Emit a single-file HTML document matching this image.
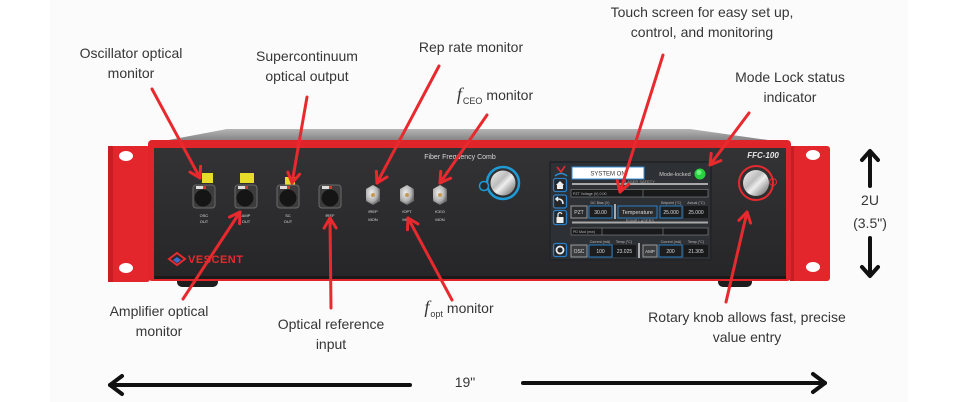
<!DOCTYPE html>
<html><head><meta charset="utf-8">
<style>
html,body{margin:0;padding:0;background:#fff;}
svg{display:block;}
.lbl{font-family:"Liberation Sans",sans-serif;font-size:14px;fill:#363636;text-anchor:middle;}
.t{font-family:"Liberation Sans",sans-serif;text-anchor:middle;}
.rl{stroke:#e8292e;stroke-width:3;stroke-linecap:round;fill:none;}
.bk{stroke:#111;stroke-width:4;stroke-linecap:round;stroke-linejoin:round;fill:none;}
</style></head><body>
<svg width="960" height="402" viewBox="0 0 960 402" xmlns="http://www.w3.org/2000/svg">
<defs>
 <marker id="ra" viewBox="0 0 16 16" refX="13" refY="8" markerWidth="16" markerHeight="16" markerUnits="userSpaceOnUse" orient="auto">
  <path d="M3,2 L13,8 L3,14" fill="none" stroke="#e8292e" stroke-width="3" stroke-linecap="round" stroke-linejoin="round"/>
 </marker>
 <linearGradient id="topg" x1="0" y1="0" x2="0" y2="1">
  <stop offset="0" stop-color="#b5b5b5"/><stop offset="1" stop-color="#7d7d7d"/>
 </linearGradient>
 <linearGradient id="panel" x1="0" y1="0" x2="0" y2="1">
  <stop offset="0" stop-color="#333335"/><stop offset="1" stop-color="#262628"/>
 </linearGradient>
 <linearGradient id="metal" x1="0" y1="0" x2="1" y2="1">
  <stop offset="0" stop-color="#f4f4f4"/><stop offset="0.4" stop-color="#bdbdbd"/><stop offset="0.55" stop-color="#eeeeee"/><stop offset="1" stop-color="#5a5a5a"/>
 </linearGradient>
 <radialGradient id="sma" cx="0.4" cy="0.4" r="0.6">
  <stop offset="0" stop-color="#f0f0f0"/><stop offset="0.7" stop-color="#b0b0b0"/><stop offset="1" stop-color="#6a6a6a"/>
 </radialGradient>
</defs>
<rect width="960" height="402" fill="#fff"/>
<rect x="50" y="0" width="858" height="402" fill="#fbfbfb"/>

<!-- top surface -->
<polygon points="158,142 227,129 690,129 782,142" fill="url(#topg)"/>
<!-- feet -->
<rect x="177" y="276" width="41" height="11" rx="5" fill="#1e1e1e"/>
<rect x="718" y="276" width="34" height="11" rx="5" fill="#1e1e1e"/>
<!-- ears -->
<rect x="108" y="146" width="42" height="136" rx="3" fill="#e3262b"/>
<rect x="108" y="146" width="5" height="136" fill="#c81e23"/>
<ellipse cx="126" cy="156" rx="7" ry="5" fill="#fff"/>
<ellipse cx="126" cy="268" rx="7" ry="5" fill="#fff"/>
<rect x="790" y="146" width="40" height="135" rx="3" fill="#e3262b"/>
<rect x="790" y="146" width="4" height="135" fill="#c81e23"/>
<ellipse cx="813" cy="155" rx="7" ry="5" fill="#fff"/>
<ellipse cx="813" cy="267" rx="7" ry="5" fill="#fff"/>
<!-- body -->
<rect x="148" y="140" width="643" height="141" rx="4" fill="#e0252a"/>
<rect x="154" y="148" width="632" height="131" fill="url(#panel)"/>
<rect x="154" y="276" width="632" height="3" fill="#1a1a1a"/>

<text x="460" y="159" class="t" font-size="7" fill="#d8d8d8">Fiber Frequency Comb</text>
<text x="763" y="158" class="t" font-size="8" font-weight="bold" font-style="italic" fill="#e8e8e8">FFC-100</text>

<!-- FC connectors -->
<g>
 <rect x="202" y="173" width="11" height="10" fill="#e8dc2a"/>
 <rect x="193" y="185" width="22" height="23" rx="3" fill="#3c3c3c" stroke="#6a6a6a" stroke-width="1"/>
 <rect x="196" y="186" width="10" height="3" fill="#ddd"/><rect x="203" y="186" width="3" height="3" fill="#d33"/>
 <circle cx="203" cy="198" r="8.5" fill="#151515"/>
 <text x="204" y="217" class="t" font-size="4" fill="#ddd">OSC</text><text x="204" y="223" class="t" font-size="4" fill="#ddd">OUT</text>

 <rect x="240" y="173" width="14" height="10" fill="#e8dc2a"/>
 <rect x="235" y="185" width="22" height="23" rx="3" fill="#3c3c3c" stroke="#6a6a6a" stroke-width="1"/>
 <rect x="238" y="186" width="10" height="3" fill="#ddd"/><rect x="245" y="186" width="3" height="3" fill="#d33"/>
 <circle cx="245" cy="198" r="8.5" fill="#151515"/>
 <text x="246" y="217" class="t" font-size="4" fill="#ddd">AMP</text><text x="246" y="223" class="t" font-size="4" fill="#ddd">OUT</text>

 <rect x="285" y="177" width="10" height="8" fill="#e8dc2a"/>
 <rect x="277" y="185" width="22" height="23" rx="3" fill="#3c3c3c" stroke="#6a6a6a" stroke-width="1"/>
 <rect x="280" y="186" width="10" height="3" fill="#ddd"/><rect x="287" y="186" width="3" height="3" fill="#d33"/>
 <circle cx="288" cy="198" r="8.5" fill="#151515"/>
 <text x="288" y="217" class="t" font-size="4" fill="#ddd">SC</text><text x="288" y="223" class="t" font-size="4" fill="#ddd">OUT</text>

 <rect x="319" y="185" width="22" height="23" rx="3" fill="#3c3c3c" stroke="#6a6a6a" stroke-width="1"/>
 <rect x="322" y="186" width="10" height="3" fill="#ddd"/><rect x="329" y="186" width="3" height="3" fill="#d33"/>
 <circle cx="330" cy="198" r="8.5" fill="#151515"/>
 <text x="330" y="217" class="t" font-size="4" fill="#ddd">fREF</text>
</g>
<!-- SMA -->
<g>
 <polygon points="366,189 373,185 380,189 380,201 373,205 366,201" fill="url(#sma)"/>
 <circle cx="373" cy="195" r="2" fill="#c89a50"/>
 <text x="373" y="213" class="t" font-size="4" fill="#ddd">fREP</text><text x="373" y="221" class="t" font-size="4" fill="#ddd">MON</text>
 <polygon points="400,189 407,185 414,189 414,201 407,205 400,201" fill="url(#sma)"/>
 <circle cx="407" cy="195" r="2" fill="#c89a50"/>
 <text x="407" y="213" class="t" font-size="4" fill="#ddd">fOPT</text><text x="407" y="221" class="t" font-size="4" fill="#ddd">MON</text>
 <polygon points="433,189 440,185 447,189 447,201 440,205 433,201" fill="url(#sma)"/>
 <circle cx="440" cy="195" r="2" fill="#c89a50"/>
 <text x="440" y="213" class="t" font-size="4" fill="#ddd">fCEO</text><text x="440" y="221" class="t" font-size="4" fill="#ddd">MON</text>
</g>

<!-- logo -->
<polygon points="177,253 185,259 177,265 169,259" fill="none" stroke="#e8292e" stroke-width="2"/>
<polygon points="177,257 181,260 177,263 173,260" fill="#3a6fd0"/>
<text x="188" y="263" font-family="Liberation Sans,sans-serif" font-size="11" font-weight="bold" fill="#e8292e" letter-spacing="0.5">VESCENT</text>

<!-- left knob -->
<circle cx="503" cy="183" r="16" fill="none" stroke="#1e9ad6" stroke-width="2.5"/>
<circle cx="503" cy="183" r="12.5" fill="url(#metal)"/>
<circle cx="484" cy="186" r="4.5" fill="#2a2a2c" stroke="#1e9ad6" stroke-width="1.5"/>
<!-- right knob -->
<circle cx="756" cy="183" r="17" fill="none" stroke="#e8292e" stroke-width="2"/>
<circle cx="756" cy="183" r="13" fill="url(#metal)"/>
<circle cx="773" cy="182" r="3.5" fill="none" stroke="#e8292e" stroke-width="1"/>

<!-- screen -->
<rect x="549" y="161" width="163" height="100" rx="2" fill="#232528"/>
<rect x="551" y="163" width="159" height="96" fill="#2d3034"/>
<path d="M557,167 L561,172 L565,166" fill="none" stroke="#e8292e" stroke-width="1.6"/>
<path d="M555,176 Q561,171 567,176" fill="none" stroke="#2a8fd0" stroke-width="1.5"/>
<g fill="#25282b" stroke="#2a7fc8" stroke-width="1.3">
 <rect x="553.5" y="178.5" width="13" height="13" rx="2"/>
 <rect x="553.5" y="195" width="13" height="13" rx="2"/>
 <rect x="553.5" y="210.5" width="13" height="14" rx="2"/>
 <rect x="553.5" y="243.5" width="13" height="13" rx="2"/>
</g>
<polygon points="556,185 560,181 564,185 563,185 563,189 557,189 557,185" fill="#eee"/>
<path d="M563,204 Q563,199 558,199 L556,199 M558,197 L556,199 L558,201" fill="none" stroke="#eee" stroke-width="1.5"/>
<rect x="556.5" y="217" width="7" height="6" fill="#eee"/><path d="M558,217 L558,214 Q560,211 562,214" fill="none" stroke="#eee" stroke-width="1.2"/>
<circle cx="560" cy="250" r="3.5" fill="none" stroke="#eee" stroke-width="1.8"/>

<rect x="572" y="167" width="72" height="12" fill="#fff" stroke="#3a8fd8" stroke-width="1"/>
<text x="608" y="175.5" class="t" font-size="6" fill="#333">SYSTEM ON</text>
<text x="675" y="176" class="t" font-size="5.5" fill="#cfcfcf">Mode-locked</text>
<circle cx="700" cy="174" r="5.5" fill="#27d23e"/>
<circle cx="699" cy="172.5" r="2.5" fill="#6cf07c"/>

<rect x="572" y="183" width="136" height="2" fill="#a8a8a8"/>
<text x="640" y="183" class="t" font-size="4" fill="#aaa">LASER SAFETY</text>
<rect x="571" y="189.5" width="137" height="7.5" fill="#18191a" stroke="#8a8a8a" stroke-width="0.6"/>
<line x1="643" y1="189.5" x2="643" y2="197" stroke="#8a8a8a" stroke-width="0.6"/>
<text x="573" y="195" font-family="Liberation Sans,sans-serif" font-size="3.6" fill="#bbb">PZT Voltage (V)   0.00</text>
<text x="600" y="204" class="t" font-size="3.6" fill="#bbb">DC Bias (V)</text>
<text x="671" y="204" class="t" font-size="3.6" fill="#bbb">Setpoint (°C)</text>
<text x="696" y="204" class="t" font-size="3.6" fill="#bbb">Actual (°C)</text>
<rect x="571" y="206" width="16" height="12" fill="#2a2c2e" stroke="#9a9a9a" stroke-width="1"/>
<text x="579" y="214" class="t" font-size="5" fill="#ddd">PZT</text>
<rect x="589" y="206" width="23" height="12" fill="#1c1d1f" stroke="#2a7fc8" stroke-width="1"/>
<text x="600.5" y="214" class="t" font-size="5" fill="#ddd">30.00</text>
<rect x="614" y="204" width="2" height="15" fill="#aaa"/>
<rect x="618" y="206" width="39" height="12" fill="#2a2c2e" stroke="#2a7fc8" stroke-width="1"/>
<text x="637.5" y="214" class="t" font-size="5.5" fill="#ddd">Temperature</text>
<rect x="660" y="206" width="22" height="12" fill="#1c1d1f" stroke="#2a7fc8" stroke-width="1"/>
<text x="671" y="214" class="t" font-size="5" fill="#ddd">25.000</text>
<rect x="684" y="206" width="24" height="12" fill="#18191a"/>
<text x="696" y="214" class="t" font-size="5" fill="#ddd">25.000</text>

<rect x="572" y="221.5" width="136" height="2" fill="#a8a8a8"/>
<text x="640" y="222" class="t" font-size="4" fill="#aaa">PUMP LASERS</text>
<rect x="571" y="228" width="137" height="7" fill="#18191a" stroke="#8a8a8a" stroke-width="0.6"/>
<line x1="602" y1="228" x2="602" y2="235" stroke="#8a8a8a" stroke-width="0.6"/>
<line x1="663" y1="228" x2="663" y2="235" stroke="#8a8a8a" stroke-width="0.6"/>
<text x="573" y="233" font-family="Liberation Sans,sans-serif" font-size="3.6" fill="#bbb">PD Mod (mw)</text>
<text x="600" y="243" class="t" font-size="3.6" fill="#bbb">Current (mA)</text>
<text x="624" y="243" class="t" font-size="3.6" fill="#bbb">Temp (°C)</text>
<text x="671" y="243" class="t" font-size="3.6" fill="#bbb">Current (mA)</text>
<text x="696" y="243" class="t" font-size="3.6" fill="#bbb">Temp (°C)</text>
<rect x="571" y="245" width="16" height="12" fill="#3a3c3e" stroke="#9a9a9a" stroke-width="1"/>
<text x="579" y="253" class="t" font-size="5" fill="#ddd">OSC</text>
<rect x="589" y="245" width="23" height="12" fill="#1c1d1f" stroke="#2a7fc8" stroke-width="1"/>
<text x="600.5" y="253" class="t" font-size="5" fill="#ddd">100</text>
<rect x="613" y="245" width="23" height="12" fill="#18191a"/>
<text x="624.5" y="253" class="t" font-size="5" fill="#ddd">23.025</text>
<rect x="638" y="243" width="2" height="15" fill="#aaa"/>
<rect x="643" y="245" width="14" height="12" fill="#3a3c3e" stroke="#9a9a9a" stroke-width="1"/>
<text x="650" y="253" class="t" font-size="4.5" fill="#ddd">AMP</text>
<rect x="659" y="245" width="23" height="12" fill="#1c1d1f" stroke="#2a7fc8" stroke-width="1"/>
<text x="670.5" y="253" class="t" font-size="5" fill="#ddd">200</text>
<rect x="684" y="245" width="24" height="12" fill="#18191a"/>
<text x="696" y="253" class="t" font-size="5" fill="#ddd">21.305</text>

<!-- red annotation lines -->
<line class="rl" x1="152" y1="89" x2="200" y2="178" marker-end="url(#ra)"/>
<line class="rl" x1="307" y1="97" x2="292" y2="183" marker-end="url(#ra)"/>
<line class="rl" x1="439" y1="66" x2="377" y2="183" marker-end="url(#ra)"/>
<line class="rl" x1="487" y1="115" x2="440" y2="183" marker-end="url(#ra)"/>
<line class="rl" x1="663" y1="55" x2="620" y2="192" marker-end="url(#ra)"/>
<line class="rl" x1="749" y1="113" x2="710" y2="165" marker-end="url(#ra)"/>
<line class="rl" x1="183" y1="299" x2="240" y2="212" marker-end="url(#ra)"/>
<line class="rl" x1="331" y1="308" x2="330" y2="218" marker-end="url(#ra)"/>
<line class="rl" x1="452" y1="300" x2="408" y2="218" marker-end="url(#ra)"/>
<line class="rl" x1="726" y1="302" x2="747" y2="212" marker-end="url(#ra)"/>

<!-- labels -->
<text class="lbl" x="131" y="58">Oscillator optical</text>
<text class="lbl" x="131" y="78">monitor</text>
<text class="lbl" x="307" y="61">Supercontinuum</text>
<text class="lbl" x="307" y="81">optical output</text>
<text class="lbl" x="471" y="52">Rep rate monitor</text>
<text class="lbl" x="702" y="17">Touch screen for easy set up,</text>
<text class="lbl" x="702" y="37">control, and monitoring</text>
<text class="lbl" x="790" y="82">Mode Lock status</text>
<text class="lbl" x="790" y="102">indicator</text>
<text class="lbl" x="495" y="100" text-anchor="start"><tspan font-family="Liberation Serif,serif" font-style="italic" font-size="18">f</tspan><tspan font-size="9" dy="4" dx="1">CEO</tspan><tspan dy="-4" dx="4">monitor</tspan></text>
<text class="lbl" x="159" y="316">Amplifier optical</text>
<text class="lbl" x="159" y="336">monitor</text>
<text class="lbl" x="331" y="329">Optical reference</text>
<text class="lbl" x="331" y="349">input</text>
<text class="lbl" x="459" y="313" text-anchor="start"><tspan font-family="Liberation Serif,serif" font-style="italic" font-size="18">f</tspan><tspan font-size="9" dy="4" dx="1">opt</tspan><tspan dy="-4" dx="4">monitor</tspan></text>
<text class="lbl" x="747" y="322">Rotary knob allows fast, precise</text>
<text class="lbl" x="747" y="342">value entry</text>

<!-- dimension arrows -->
<line class="bk" x1="410" y1="385" x2="110" y2="385"/>
<polyline class="bk" points="122,376 110,385 122,394"/>
<line class="bk" x1="523" y1="383" x2="825" y2="383"/>
<polyline class="bk" points="813,374 825,383 813,392"/>
<text class="lbl" x="465" y="387" font-size="15">19"</text>

<line class="bk" x1="870" y1="152" x2="870" y2="186" stroke-width="3.5"/>
<polyline class="bk" points="862,160 870,151 878,160" stroke-width="3.5"/>
<line class="bk" x1="870" y1="238" x2="870" y2="275" stroke-width="3.5"/>
<polyline class="bk" points="862,267 870,276 878,267" stroke-width="3.5"/>
<text class="lbl" x="870" y="205" font-size="15">2U</text>
<text class="lbl" x="870" y="228" font-size="15">(3.5")</text>
</svg>
</body></html>
